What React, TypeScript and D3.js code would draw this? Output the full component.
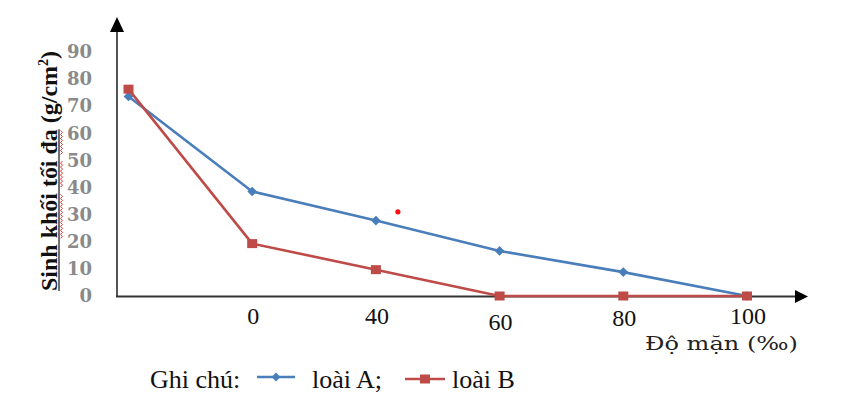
import React, { useEffect, useRef } from "react";
import * as d3 from "d3";

// ---- data ----
const categories = ["", "0", "40", "60", "80", "100"];
const speciesA = [73.5, 38.5, 27.8, 16.6, 8.8, 0];
const speciesB = [76.2, 19.3, 9.7, 0, 0, 0];
const yTicks = [0, 10, 20, 30, 40, 50, 60, 70, 80, 90];
const seriesNames = ["loài A;", "loài B"];
const legendTitle = "Ghi chú:";
const xTitle = "Độ mặn (‰)";
const yTitleMain = "Sinh khối tối đa (g/cm";
const yTitleSup = "2";
const yTitleEnd = ")";
const strayDot = [{ x: "40", value: 31 }];

const W = 853;
const H = 395;
const BLUE = "#4a7ebb";
const RED = "#be4b48";

export default function App() {
  const ref = useRef<SVGSVGElement | null>(null);

  useEffect(() => {
    const svg = d3.select(ref.current);
    svg.selectAll("*").remove();

    const x = d3.scalePoint<string>().domain(categories).range([128.5, 747]);
    const y = d3.scaleLinear().domain([0, 90]).range([296, 51.7]);

    // axes
    const axisColor = "#333";
    svg.append("line").attr("x1", 117).attr("x2", 117).attr("y1", 297).attr("y2", 28)
      .attr("stroke", "#555").attr("stroke-width", 2);
    svg.append("path").attr("d", "M110,32 L124,32 L117,17 Z").attr("fill", "#000");
    svg.append("line").attr("x1", 116).attr("x2", 797).attr("y1", 296.5).attr("y2", 296.5)
      .attr("stroke", axisColor).attr("stroke-width", 2);
    svg.append("path").attr("d", "M795,290 L795,303 L808,296.5 Z").attr("fill", "#000");

    // y tick labels
    svg.append("g").selectAll("text").data(yTicks).join("text")
      .attr("x", 92).attr("y", (d) => y(d)).attr("dy", "0.36em")
      .attr("text-anchor", "end")
      .attr("font-family", "'DejaVu Serif', serif").attr("font-weight", "bold")
      .attr("font-size", 18).attr("fill", "#8a8a8a")
      .text((d) => String(d));

    // x labels
    svg.append("g").selectAll("text").data(categories.filter((c) => c !== "")).join("text")
      .attr("x", (d) => (x(d) as number) + 1)
      .attr("y", (d) => (d === "60" ? 330 : d === "80" ? 326 : 324))
      .attr("text-anchor", "middle")
      .attr("font-family", "'Liberation Serif', serif").attr("font-size", 24).attr("fill", "#111")
      .text((d) => d);

    // x title
    svg.append("text").attr("x", 798).attr("y", 350).attr("text-anchor", "end")
      .attr("font-family", "'DejaVu Serif', serif").attr("font-size", 19).attr("fill", "#222")
      .attr("textLength", 153).attr("lengthAdjust", "spacingAndGlyphs")
      .text(xTitle);

    // y title
    const tg = svg.append("g").attr("transform", "translate(57,171) rotate(-90)");
    const tt = tg.append("text").attr("text-anchor", "middle")
      .attr("font-family", "'Liberation Serif', serif").attr("font-weight", "bold")
      .attr("font-size", 24).attr("fill", "#111")
      .attr("textLength", 240).attr("lengthAdjust", "spacingAndGlyphs");
    tt.append("tspan").text(yTitleMain);
    tt.append("tspan").attr("font-size", 14).attr("dy", -9).text(yTitleSup);
    tt.append("tspan").attr("dy", 9).text(yTitleEnd);
    const tnode = tt.node() as SVGTextElement;
    const full = yTitleMain + yTitleSup + yTitleEnd;
    const words = ["khối", "tối", "đa"];
    try {
      const endIdx = full.indexOf("đa") + 2;
      const sx = tnode.getStartPositionOfChar(0).x;
      const ex = tnode.getEndPositionOfChar(endIdx - 1).x;
      tg.append("line").attr("x1", sx).attr("x2", ex).attr("y1", 2).attr("y2", 2)
        .attr("stroke", "#111").attr("stroke-width", 1.2);
      words.forEach((w) => {
        const i = full.indexOf(w);
        const a = tnode.getStartPositionOfChar(i).x;
        const b = tnode.getEndPositionOfChar(i + w.length - 1).x;
        const pts: [number, number][] = [];
        let k = 0;
        for (let p = a; p <= b; p += 2) {
          pts.push([p, k % 2 === 0 ? 3.5 : 5.5]);
          k++;
        }
        tg.append("path").attr("d", d3.line()(pts) as string)
          .attr("fill", "none").attr("stroke", "#e03030").attr("stroke-width", 1);
      });
    } catch (e) {
      // ignore
    }

    // lines
    const line = d3.line<number>()
      .x((_, i) => x(categories[i]) as number)
      .y((d) => y(d));

    svg.append("path").datum(speciesA).attr("d", line).attr("fill", "none")
      .attr("stroke", BLUE).attr("stroke-width", 2.6).attr("stroke-linejoin", "round");
    svg.append("g").selectAll("path").data(speciesA).join("path")
      .attr("d", d3.symbol(d3.symbolDiamond2, 60) as any)
      .attr("transform", (d, i) => `translate(${x(categories[i])},${y(d)})`)
      .attr("fill", BLUE);

    svg.append("path").datum(speciesB).attr("d", line).attr("fill", "none")
      .attr("stroke", RED).attr("stroke-width", 2.6).attr("stroke-linejoin", "round");
    svg.append("g").selectAll("rect").data(speciesB).join("rect")
      .attr("x", (d, i) => (x(categories[i]) as number) - 5)
      .attr("y", (d) => y(d) - 4.5)
      .attr("width", 10).attr("height", 9)
      .attr("fill", RED);

    // stray red dot
    svg.append("g").selectAll("circle").data(strayDot).join("circle")
      .attr("cx", (d) => (x(d.x) as number) + 22)
      .attr("cy", (d) => y(d.value))
      .attr("r", 2.6).attr("fill", "#ff1010");

    // legend
    const lf = "'Liberation Serif', serif";
    svg.append("text").attr("x", 150).attr("y", 388).attr("font-family", lf)
      .attr("font-size", 26).attr("fill", "#111").text(legendTitle);
    svg.append("line").attr("x1", 257).attr("x2", 295).attr("y1", 377).attr("y2", 377)
      .attr("stroke", BLUE).attr("stroke-width", 2.6);
    svg.append("path").attr("d", d3.symbol(d3.symbolDiamond2, 50) as any)
      .attr("transform", "translate(276,377)").attr("fill", BLUE);
    svg.append("text").attr("x", 312).attr("y", 388).attr("font-family", lf)
      .attr("font-size", 26).attr("fill", "#111").text(seriesNames[0]);
    svg.append("line").attr("x1", 405).attr("x2", 445).attr("y1", 379).attr("y2", 379)
      .attr("stroke", RED).attr("stroke-width", 2.6);
    svg.append("rect").attr("x", 420).attr("y", 374.5).attr("width", 10).attr("height", 9)
      .attr("fill", RED);
    svg.append("text").attr("x", 452).attr("y", 388).attr("font-family", lf)
      .attr("font-size", 26).attr("fill", "#111").text(seriesNames[1]);
  }, []);

  return (
    <svg
      ref={ref}
      width={W}
      height={H}
      style={{ position: "absolute", left: 0, top: 0, background: "#fff" }}
    />
  );
}
